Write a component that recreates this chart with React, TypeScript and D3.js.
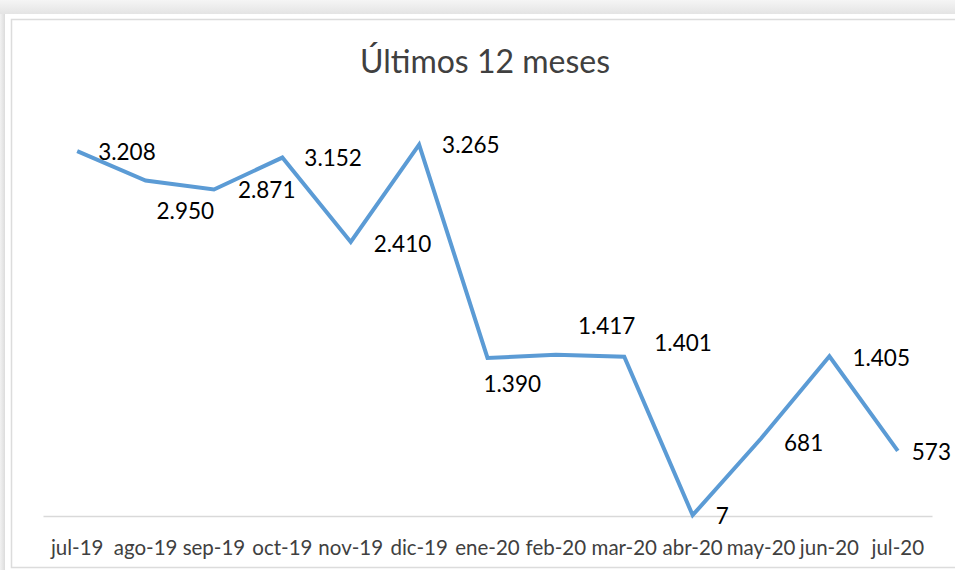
import React, { useEffect, useRef } from "react";
import * as d3 from "d3";

// months shown on the x axis
const months = [
  "jul-19", "ago-19", "sep-19", "oct-19", "nov-19", "dic-19", "ene-20",
  "feb-20", "mar-20", "abr-20", "may-20", "jun-20", "jul-20",
];
// monthly values
const values = [3208, 2950, 2871, 3152, 2410, 3265, 1390, 1417, 1401, 7, 681, 1405, 573];
// label text, as printed on the chart (es format)
const labels = ["3.208", "2.950", "2.871", "3.152", "2.410", "3.265", "1.390", "1.417", "1.401", "7", "681", "1.405", "573"];
// label nudges (dx from point to text start, dy to text middle)
const labelDx = [21, 11, 24, 22, 23, 23, -4, 22, 30, 23, 23, 23, 14];
const labelDy = [1, 31, 1, 1, 2, 0, 26, -29, -14, 1, 5, 2, 1];

const title = "Últimos 12 meses";

export default function App() {
  const ref = useRef<SVGSVGElement>(null);

  useEffect(() => {
    const W = 955, H = 570;
    const margin = { top: 118, right: 23, bottom: 54, left: 43 };

    const svg = d3.select(ref.current).attr("width", W).attr("height", H);
    svg.selectAll("*").remove();

    // grey page behind the card
    const defs = svg.append("defs");
    const gTop = defs.append("linearGradient").attr("id", "topShade").attr("x1", 0).attr("y1", 0).attr("x2", 0).attr("y2", 1);
    gTop.append("stop").attr("offset", "0%").attr("stop-color", "#f5f5f5");
    gTop.append("stop").attr("offset", "100%").attr("stop-color", "#e4e4e4");
    const gLeft = defs.append("linearGradient").attr("id", "leftShade").attr("x1", 0).attr("y1", 0).attr("x2", 1).attr("y2", 0);
    gLeft.append("stop").attr("offset", "0%").attr("stop-color", "#f2f2f2");
    gLeft.append("stop").attr("offset", "100%").attr("stop-color", "#dcdcdc");

    svg.append("rect").attr("width", W).attr("height", H).attr("fill", "#ffffff");
    svg.append("rect").attr("width", W).attr("height", 14).attr("fill", "url(#topShade)");
    svg.append("rect").attr("y", 14).attr("width", 5).attr("height", H - 14).attr("fill", "url(#leftShade)");

    // chart border
    svg.append("path")
      .attr("d", `M${W + 2},19.5 H11.5 V567.5 H${W + 2}`)
      .attr("fill", "none")
      .attr("stroke", "#dcdcdc")
      .attr("stroke-width", 1.5);

    const w = W - margin.left - margin.right;
    const h = H - margin.top - margin.bottom;

    const x = d3.scaleBand().domain(months).range([margin.left, margin.left + w]);
    const y = d3.scaleLinear().domain([0, 3500]).range([margin.top + h, margin.top]);

    // title
    svg.append("text")
      .attr("x", 485)
      .attr("y", 73)
      .attr("text-anchor", "middle")
      .style("font-family", "Lato, 'Open Sans', sans-serif")
      .style("font-size", "32px")
      .attr("fill", "#404040")
      .text(title);

    // x axis
    const xAxis = svg.append("g")
      .attr("transform", `translate(0,${y(0)})`)
      .call(d3.axisBottom(x).tickSize(0).tickPadding(0));
    xAxis.select(".domain").attr("stroke", "#d9d9d9").attr("stroke-width", 1.5);
    xAxis.selectAll("text")
      .attr("dy", null)
      .attr("y", 39)
      .style("font-family", "Lato, 'Open Sans', sans-serif")
      .style("font-size", "20.5px")
      .attr("fill", "#404040");

    // line
    const line = d3.line<number>()
      .x((_, i) => (x(months[i]) as number) + x.bandwidth() / 2)
      .y((d) => y(d));

    svg.append("path")
      .datum(values)
      .attr("d", line)
      .attr("fill", "none")
      .attr("stroke", "#5b9bd5")
      .attr("stroke-width", 4)
      .attr("stroke-linejoin", "miter");

    // data labels
    svg.selectAll(".lbl")
      .data(values)
      .join("text")
      .attr("class", "lbl")
      .attr("x", (_, i) => (x(months[i]) as number) + x.bandwidth() / 2 + labelDx[i])
      .attr("y", (d, i) => y(d) + labelDy[i])
      .attr("dy", "0.35em")
      .style("font-family", "Lato, 'Open Sans', sans-serif")
      .style("font-size", "22.5px")
      .attr("fill", "#000000")
      .text((_, i) => labels[i]);
  }, []);

  return (
    <svg ref={ref} style={{ position: "absolute", left: 0, top: 0, display: "block" }}></svg>
  );
}
